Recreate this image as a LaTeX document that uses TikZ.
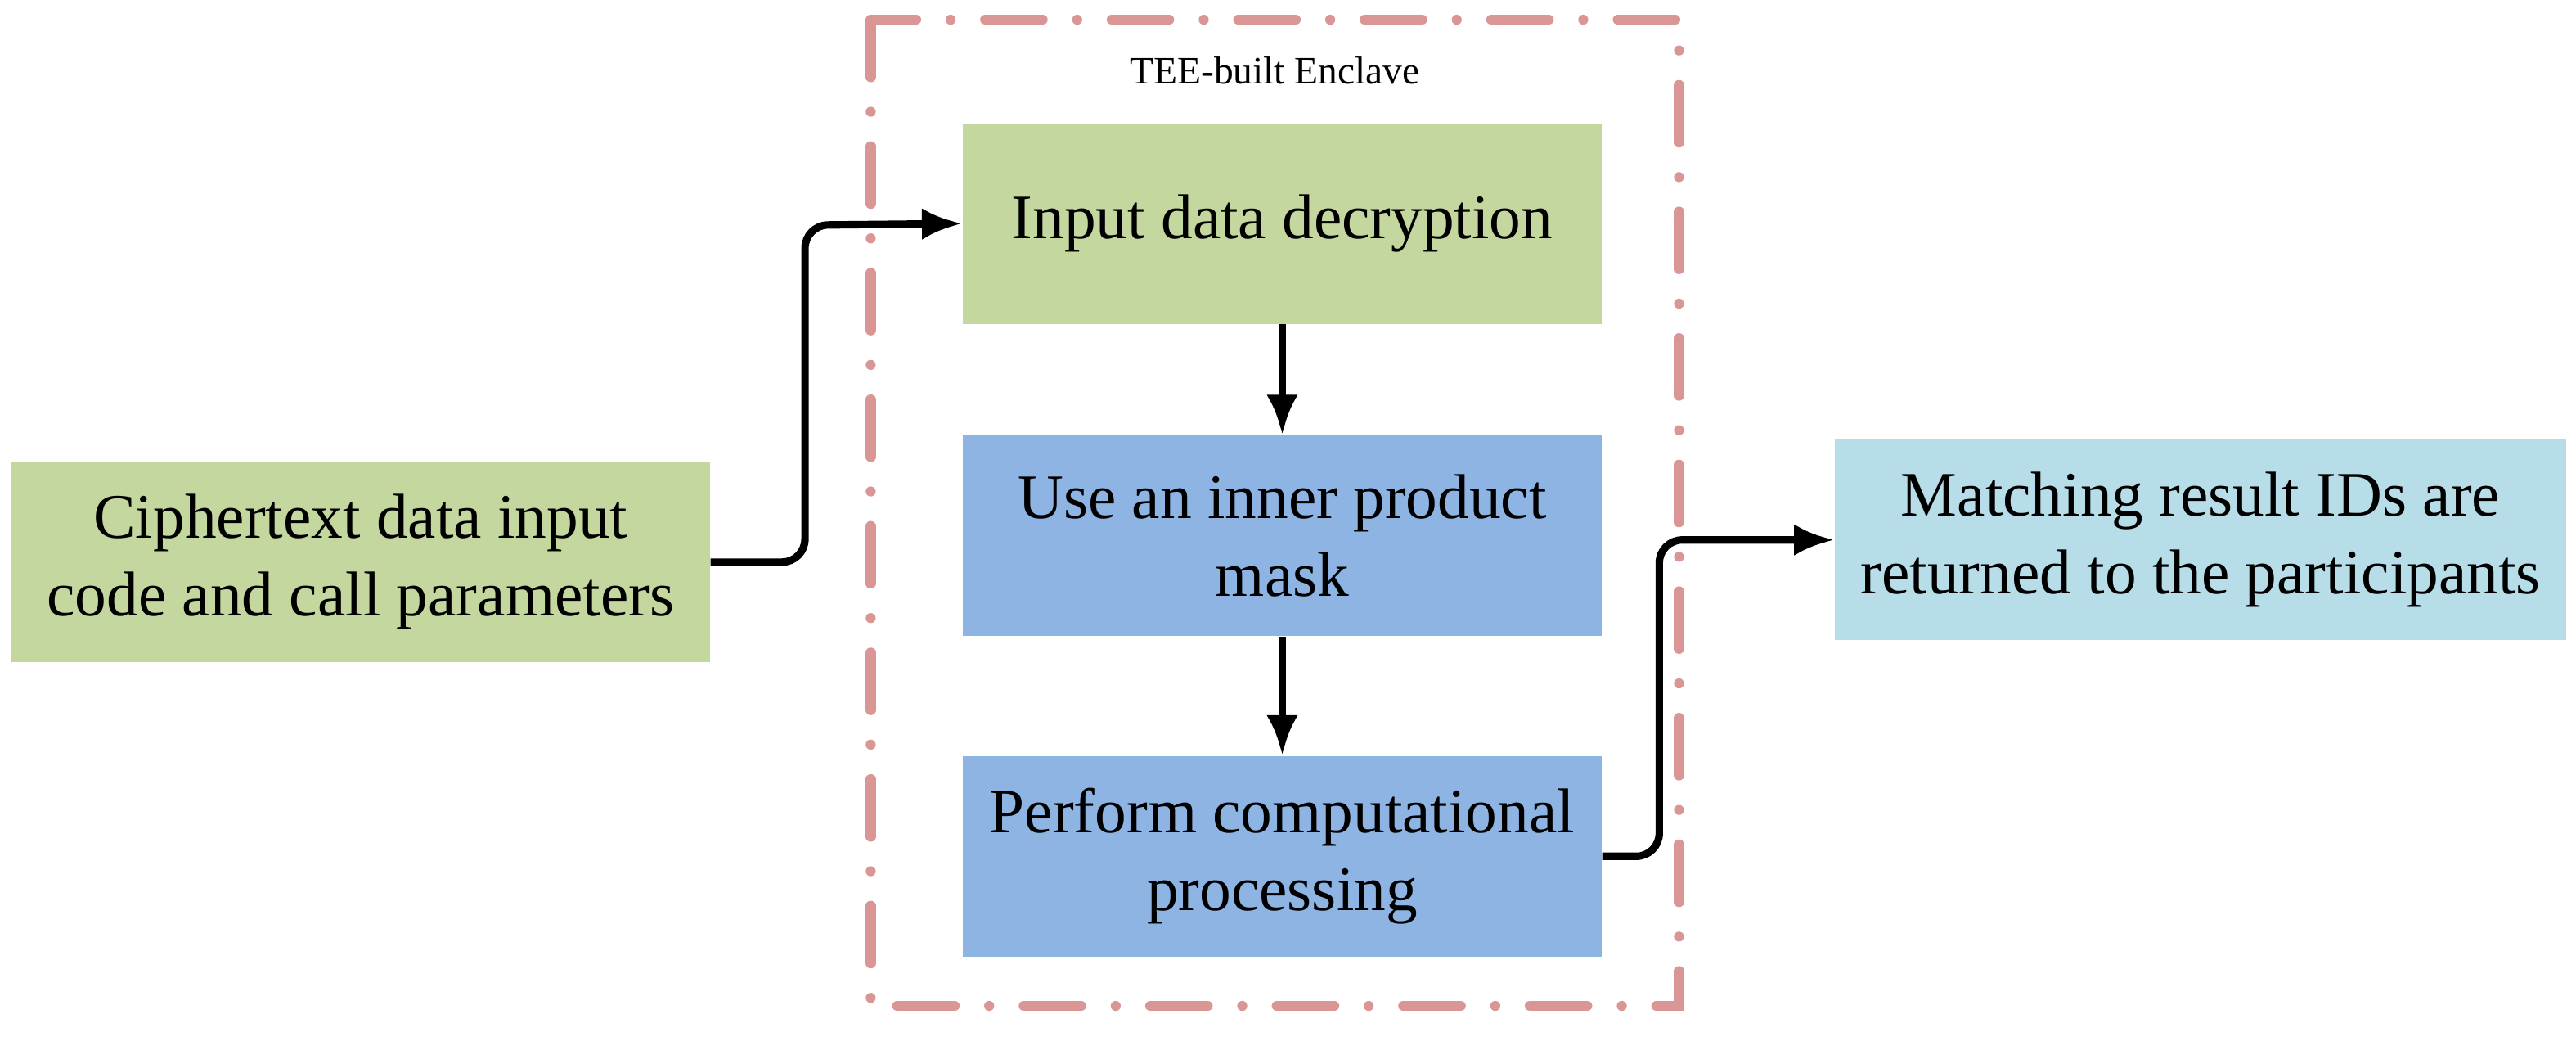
\documentclass[tikz,border=0pt]{standalone}
\usepackage{fontspec}
\setmainfont{Liberation Serif}
\usetikzlibrary{arrows.meta}
\definecolor{gr}{HTML}{C4D79F}
\definecolor{bl}{HTML}{8EB4E3}
\definecolor{lb}{HTML}{B7DEE8}
\definecolor{pk}{HTML}{D99694}
\begin{document}
\begin{tikzpicture}[x=0.02008cm,y=-0.02008cm,
 box/.style={draw=none,minimum width=7.81cm,minimum height=2.45cm,align=center,font=\fontsize{22}{27}\selectfont,inner sep=0pt},
 arr/.style={line width=2.6pt,-{Latex[length=14pt,width=11pt]},rounded corners=8pt}]
\useasboundingbox (0,0) rectangle (1568,633);
\draw[pk,line width=3.5pt,line cap=round,dash pattern=on 20pt off 12pt on 0pt off 12pt] (530,12) rectangle (1022,612);
\node[font=\fontsize{13.5}{16}\selectfont] (lab) at (776,43) {TEE-built Enclave};
\node[box,fill=gr,minimum width=8.54cm] (in) at (219.5,342) {Ciphertext data input\\code and call parameters};
\node[box,fill=gr] (b1) at (780.5,136) {Input data decryption};
\node[box,fill=bl] (b2) at (780.5,326) {Use an inner product\\mask};
\node[box,fill=bl] (b3) at (780.5,521) {Perform computational\\processing};
\node[box,fill=lb,minimum width=8.94cm] (out) at (1339.5,328.5) {Matching result IDs are\\returned to the participants};
\draw[arr] (in.east) -- (490,342) -- (490,137) -- (b1.west);
\draw[arr] (b1) -- (b2);
\draw[arr] (b2) -- (b3);
\draw[arr] (b3.east) -- (1010,521) -- (1010,328.5) -- (out.west);
\end{tikzpicture}
\end{document}
